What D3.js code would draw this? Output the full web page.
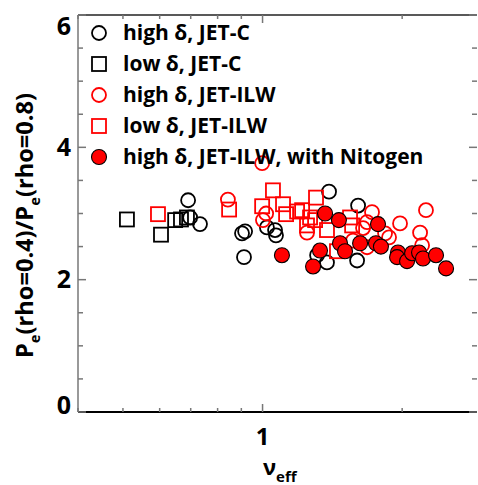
<!DOCTYPE html>
<html>
<head>
<meta charset="utf-8">
<script src="https://cdn.jsdelivr.net/npm/d3@7"></script>
<style>
    body { margin: 0; background: #fff; }
    text { font-family: "Open Sans", sans-serif; font-weight: 700; }
</style>
</head>
<body>
<script>
// 数据：[nu_eff, Pe(0.4)/Pe(0.8)]
const highDeltaC = [
    [0.691, 3.20], [0.698, 2.94], [0.733, 2.84], [0.903, 2.70], [0.917, 2.73],
    [0.912, 2.34], [1.022, 2.79], [1.064, 2.75], [1.069, 2.67], [1.391, 3.33],
    [1.607, 3.12], [1.311, 2.37], [1.377, 2.26], [1.599, 2.29]
];
const lowDeltaC = [
    [0.510, 2.91], [0.604, 2.68], [0.648, 2.90], [0.667, 2.91], [0.687, 2.94]
];
const highDeltaILW = [
    [0.842, 3.21], [0.998, 3.76], [1.018, 3.00], [1.002, 2.90], [1.247, 2.71],
    [1.722, 3.02], [1.680, 2.87], [1.647, 2.78], [1.837, 2.70], [1.874, 2.64],
    [1.979, 2.85], [2.251, 3.05], [2.186, 2.71], [2.208, 2.52], [1.567, 2.59],
    [1.680, 2.49]
];
const lowDeltaILW = [
    [0.595, 2.99], [0.847, 3.06], [1.053, 3.35], [0.998, 3.11], [1.107, 3.14],
    [1.124, 2.99], [1.187, 3.03], [1.304, 3.24], [1.217, 3.05], [1.266, 2.94],
    [1.298, 2.90], [1.247, 2.82], [1.377, 2.75], [1.544, 2.94], [1.560, 2.82],
    [1.447, 2.43]
];
const nitrogenILW = [
    [1.101, 2.37], [1.364, 3.00], [1.461, 2.90], [1.774, 2.84], [1.330, 2.44],
    [1.469, 2.55], [1.506, 2.43], [1.623, 2.55], [1.756, 2.55], [1.800, 2.50],
    [1.285, 2.20], [1.959, 2.41], [1.950, 2.34], [2.049, 2.28], [2.101, 2.40],
    [2.175, 2.41], [2.218, 2.32], [2.366, 2.37], [2.487, 2.17]
];

// 刻度
const xMajorTicks = [1];
const xMinorTicks = [0.4, 0.5, 0.6, 0.7, 0.8, 0.9, 2];
const yMajorTicks = [0, 2, 4, 6];
const yMinorTicks = [0.5, 1, 1.5, 2.5, 3, 3.5, 4.5, 5, 5.5];

const legendLabels = [
    'high δ, JET-C',
    'low δ, JET-C',
    'high δ, JET-ILW',
    'low δ, JET-ILW',
    'high δ, JET-ILW, with Nitogen'
];

const svgWidth = 478, svgHeight = 485;
const plot = {left: 78, right: 477, top: 15, bottom: 412};

let svg = d3.select('body')
    .append('svg')
    .attr('width', svgWidth)
    .attr('height', svgHeight);

let x = d3.scaleLog().domain([0.4, 2.9]).range([plot.left, plot.right]);
let y = d3.scaleLinear().domain([0, 6]).range([plot.bottom, plot.top]);

// 系列样式
let series = [
    {data: highDeltaC, shape: 'circle', stroke: '#000', fill: 'none'},
    {data: lowDeltaC, shape: 'square', stroke: '#000', fill: 'none'},
    {data: highDeltaILW, shape: 'circle', stroke: '#ff0000', fill: 'none'},
    {data: lowDeltaILW, shape: 'square', stroke: '#ff0000', fill: 'none'},
    {data: nitrogenILW, shape: 'dot', stroke: '#000', fill: '#ff0000'}
];

const drawMarker = (sel, s) => {
    if (s.shape === 'square') {
        sel.append('rect')
            .attr('x', -7).attr('y', -7)
            .attr('width', 14).attr('height', 14)
            .attr('fill', s.fill)
            .attr('stroke', s.stroke)
            .attr('stroke-width', 1.8);
    } else {
        sel.append('circle')
            .attr('r', s.shape === 'dot' ? 7.5 : 7)
            .attr('fill', s.fill)
            .attr('stroke', s.stroke)
            .attr('stroke-width', s.shape === 'dot' ? 1.1 : 1.8);
    }
};

// 绘制点
series.forEach(s => {
    svg.append('g')
        .selectAll('g')
        .data(s.data)
        .enter()
        .append('g')
        .attr('transform', d => `translate(${x(d[0])},${y(d[1])})`)
        .each(function () { drawMarker(d3.select(this), s); });
});

// 坐标框
let axisG = svg.append('g');
axisG.append('line')
    .attr('x1', plot.left).attr('x2', plot.right)
    .attr('y1', plot.bottom).attr('y2', plot.bottom)
    .attr('stroke', '#000').attr('stroke-width', 2);
axisG.append('line')
    .attr('x1', plot.left).attr('x2', plot.right)
    .attr('y1', plot.top).attr('y2', plot.top)
    .attr('stroke', '#222').attr('stroke-width', 1.5);
axisG.append('line')
    .attr('x1', plot.left).attr('x2', plot.left)
    .attr('y1', plot.top).attr('y2', plot.bottom)
    .attr('stroke', '#777').attr('stroke-width', 1.5);

// x 刻度（上下）
const tickStyle = sel => sel.attr('stroke', '#777').attr('stroke-width', 1.5);
[[xMajorTicks, 8], [xMinorTicks, 4]].forEach(([ticks, len]) => {
    axisG.selectAll(null).data(ticks).enter().append('line')
        .attr('x1', d => x(d)).attr('x2', d => x(d))
        .attr('y1', plot.bottom).attr('y2', plot.bottom - len)
        .call(tickStyle);
    axisG.selectAll(null).data(ticks).enter().append('line')
        .attr('x1', d => x(d)).attr('x2', d => x(d))
        .attr('y1', plot.top).attr('y2', plot.top + len)
        .call(tickStyle);
});
// y 刻度（左右）
[[yMajorTicks, 8], [yMinorTicks, 5]].forEach(([ticks, len]) => {
    axisG.selectAll(null).data(ticks).enter().append('line')
        .attr('y1', d => y(d)).attr('y2', d => y(d))
        .attr('x1', plot.left).attr('x2', plot.left + len)
        .call(tickStyle);
    axisG.selectAll(null).data(ticks).enter().append('line')
        .attr('y1', d => y(d)).attr('y2', d => y(d))
        .attr('x1', plot.right).attr('x2', plot.right - len)
        .call(tickStyle);
});

// 刻度标签
axisG.selectAll(null).data(yMajorTicks).enter().append('text')
    .attr('x', 71)
    .attr('y', d => Math.min(Math.max(y(d), 26), 405))
    .attr('dy', '0.35em')
    .attr('text-anchor', 'end')
    .style('font-size', '25px')
    .text(d => d);
axisG.selectAll(null).data(xMajorTicks).enter().append('text')
    .attr('x', d => x(d))
    .attr('y', 445)
    .attr('text-anchor', 'middle')
    .style('font-size', '24px')
    .text(d => d);

// 轴标题
let xTitle = svg.append('text')
    .attr('x', 263).attr('y', 475)
    .style('font-size', '22px');
xTitle.append('tspan').text('ν');
xTitle.append('tspan').attr('dy', 7).style('font-size', '15px').text('eff');

let yTitle = svg.append('text')
    .attr('transform', 'translate(33,358) rotate(-90)')
    .attr('textLength', 265)
    .attr('lengthAdjust', 'spacingAndGlyphs')
    .style('font-size', '24px');
yTitle.append('tspan').text('P');
yTitle.append('tspan').attr('dy', 7).style('font-size', '15px').text('e');
yTitle.append('tspan').attr('dy', -7).text('(rho=0.4)/P');
yTitle.append('tspan').attr('dy', 7).style('font-size', '15px').text('e');
yTitle.append('tspan').attr('dy', -7).text('(rho=0.8)');

// 图例
let legendG = svg.append('g');
legendLabels.forEach((label, i) => {
    let row = legendG.append('g')
        .attr('transform', `translate(99,${33 + i * 31})`);
    drawMarker(row, series[i]);
    row.append('text')
        .attr('x', 24)
        .attr('dy', '0.35em')
        .style('font-size', '21px')
        .text(label);
});
</script>
</body>
</html>
